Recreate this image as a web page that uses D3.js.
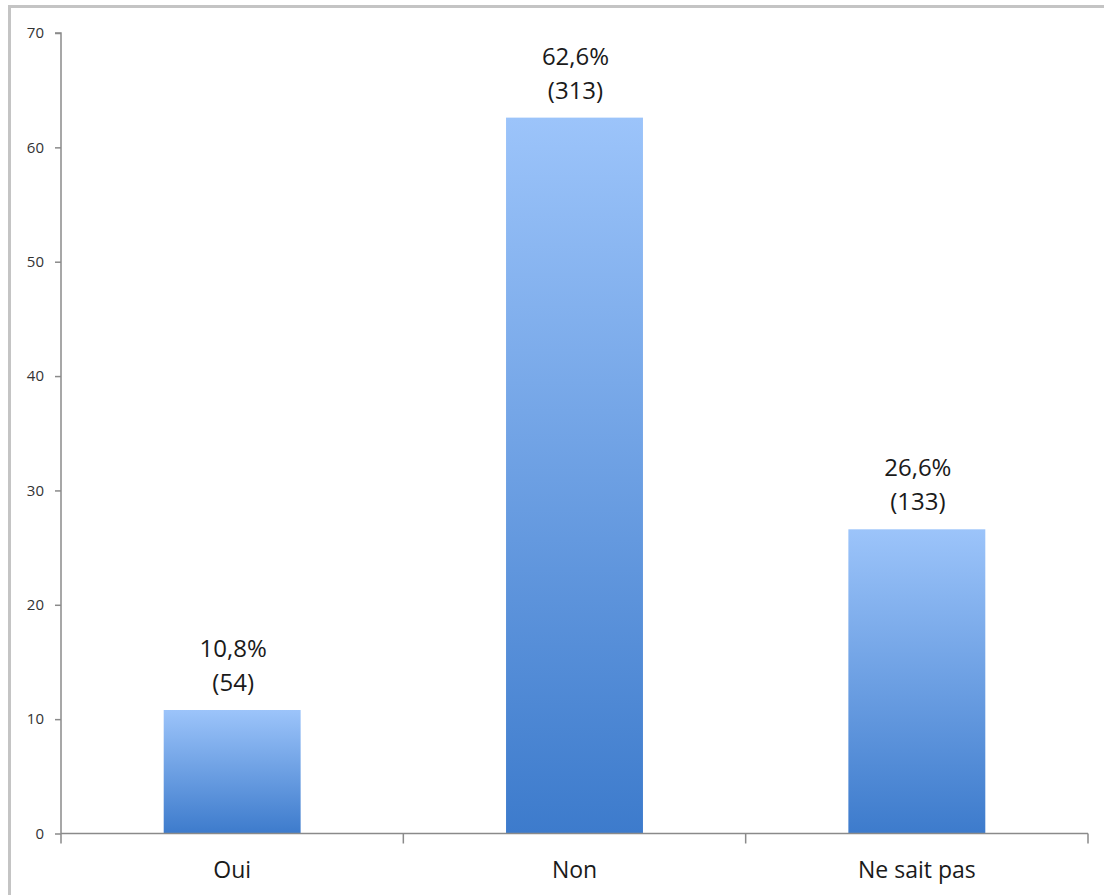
<!DOCTYPE html>
<html><head><meta charset="utf-8">
<script src="https://cdn.jsdelivr.net/npm/d3@7"></script>
<style>
html,body{margin:0;padding:0;background:#fff;}
svg{display:block;}
</style></head>
<body>
<script>
const categories = ["Oui", "Non", "Ne sait pas"];
const percentages = [10.8, 62.6, 26.6];
const counts = [54, 313, 133];
const pctLabels = ["10,8%", "62,6%", "26,6%"];
const yTicks = [0, 10, 20, 30, 40, 50, 60, 70];

const W = 1104, H = 895;
const svg = d3.select("body").append("svg").attr("width", W).attr("height", H);

// frame
svg.append("rect").attr("x", 0).attr("y", 0).attr("width", W).attr("height", H).attr("fill", "#fff");
svg.append("line").attr("x1", 9.5).attr("x2", 9.5).attr("y1", 5).attr("y2", H).attr("stroke", "#c4c4c4").attr("stroke-width", 3);
svg.append("line").attr("x1", 8).attr("x2", W).attr("y1", 6.5).attr("y2", 6.5).attr("stroke", "#c4c4c4").attr("stroke-width", 3);

const x0 = 61, x1 = 1088, yTop = 33, yBot = 833.5;
const x = d3.scaleBand().domain(categories).range([x0, x1]).padding(0);
const y = d3.scaleLinear().domain([0, 70]).range([yBot, yTop]);

const defs = svg.append("defs");
const grad = defs.append("linearGradient").attr("id", "barGrad")
  .attr("x1", 0).attr("y1", 0).attr("x2", 0).attr("y2", 1);
grad.append("stop").attr("offset", "0%").attr("stop-color", "#9cc4fa");
grad.append("stop").attr("offset", "100%").attr("stop-color", "#3d7bcc");

const barW = x.bandwidth() * 0.4;
svg.selectAll("rect.bar").data(categories).enter().append("rect")
  .attr("class", "bar")
  .attr("x", d => x(d) + (x.bandwidth() - barW) / 2)
  .attr("width", barW)
  .attr("y", (d, i) => y(percentages[i]))
  .attr("height", (d, i) => y(0) - y(percentages[i]))
  .attr("fill", "url(#barGrad)");

// y axis
const yAxis = d3.axisLeft(y).tickValues(yTicks).tickSize(6).tickPadding(11).tickFormat(d3.format("d"));
const gy = svg.append("g").attr("transform", `translate(${x0},0)`).call(yAxis);
gy.select(".domain").attr("stroke", "#8a8a8a").attr("stroke-width", 1.5).attr("d", `M-6,${yTop}H0V${yBot}`);
gy.selectAll(".tick line").attr("stroke", "#8a8a8a").attr("stroke-width", 1.5);
gy.selectAll(".tick text").attr("fill", "#333").style("font-family", "'Open Sans', sans-serif").style("font-size", "15px");

// x axis
const xAxis = d3.axisBottom(x).tickSize(0).tickPadding(28);
const gx = svg.append("g").attr("transform", `translate(0,${yBot})`).call(xAxis);
gx.select(".domain").attr("stroke", "#8a8a8a").attr("stroke-width", 1.5).attr("d", `M${x0},0H${x1}`);
gx.selectAll(".tick text").attr("fill", "#1a1a1a").style("font-family", "'Open Sans', sans-serif").style("font-size", "23px");
// category boundary ticks
const bounds = categories.map(c => x(c)).concat([x1]);
gx.selectAll("line.bound").data(bounds).enter().append("line").attr("class", "bound")
  .attr("x1", d => d).attr("x2", d => d).attr("y1", 0).attr("y2", 10)
  .attr("stroke", "#8a8a8a").attr("stroke-width", 1.5);

// value labels
const lab = svg.selectAll("g.lab").data(categories).enter().append("g").attr("class", "lab");
lab.append("text")
  .attr("x", d => x(d) + x.bandwidth() / 2 + 1)
  .attr("y", (d, i) => y(percentages[i]) - 53)
  .attr("text-anchor", "middle").attr("fill", "#1a1a1a")
  .style("font-family", "'Open Sans', sans-serif").style("font-size", "24px")
  .text((d, i) => pctLabels[i]);
lab.append("text")
  .attr("x", d => x(d) + x.bandwidth() / 2 + 1)
  .attr("y", (d, i) => y(percentages[i]) - 19)
  .attr("text-anchor", "middle").attr("fill", "#1a1a1a")
  .style("font-family", "'Open Sans', sans-serif").style("font-size", "24px")
  .text((d, i) => `(${counts[i]})`);
</script>
</body></html>
